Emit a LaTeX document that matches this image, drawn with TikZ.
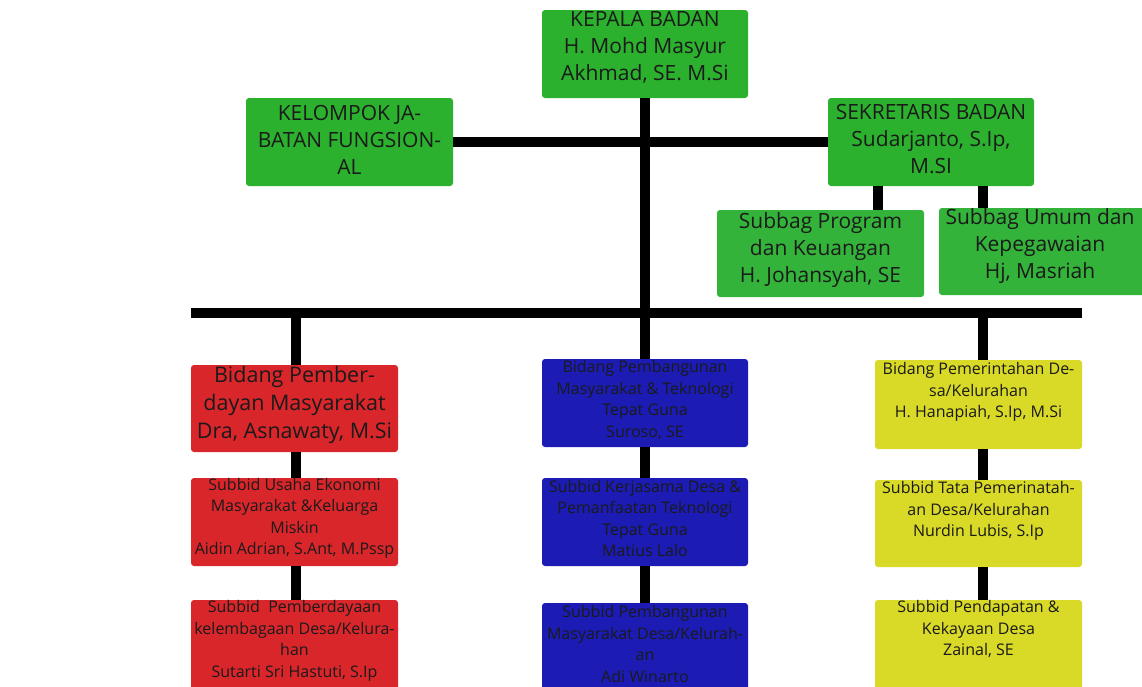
\documentclass[tikz,border=0pt]{standalone}
\usepackage{fontspec}
\setmainfont{Open Sans}
\definecolor{gr}{HTML}{2BB12E}
\definecolor{grl}{HTML}{34B33A}
\definecolor{rd}{HTML}{D9262B}
\definecolor{bl}{HTML}{1C1CB4}
\definecolor{yl}{HTML}{D9D928}
\definecolor{tx}{HTML}{1A1A1A}
\tikzset{
  box/.style={rectangle, rounded corners=3pt, inner sep=0pt, draw=none},
  gbox/.style={box, fill=gr},
  rbox/.style={box, fill=rd},
  bbox/.style={box, fill=bl},
  ybox/.style={box, fill=yl},
  bigtxt/.style={align=center, text=tx, font=\fontsize{21}{27}\selectfont, inner sep=0pt},
  smtxt/.style={align=center, text=tx, font=\fontsize{16}{21.5}\selectfont, inner sep=0pt},
  conn/.style={line width=10pt, black},
}
\begin{document}
\begin{tikzpicture}[x=1pt,y=-1pt]
\useasboundingbox (0,0) rectangle (1142,686);
\clip (0,0) rectangle (1142,686);
\fill[white] (0,0) rectangle (1142,686);
% connectors first
\coordinate (barL) at (191,313);
\coordinate (barR) at (1082,313);
\coordinate (barM) at (645,313);
\coordinate (barA) at (296,313);
\coordinate (barC) at (983,313);
\coordinate (s1) at (878,186);
\coordinate (s2) at (983,186);
\draw[conn] (barL) -- (barR);
% top boxes
\node[gbox, minimum width=206pt, minimum height=88pt] (kep) at (645,54) {};
\node[gbox, minimum width=207pt, minimum height=88pt] (kel) at (349.5,142) {};
\node[gbox, minimum width=206pt, minimum height=88pt] (sek) at (931,142) {};
\node[box, fill=grl, minimum width=207pt, minimum height=87pt] (sp) at (820.5,253.5) {};
\node[box, fill=grl, minimum width=206pt, minimum height=87pt] (su) at (1042,251.5) {};
\draw[conn] (kep.south) -- (barM);
\draw[conn] (kel.east) -- (sek.west);
\draw[conn] (s1) -- (s1 |- sp.north);
\draw[conn] (s2) -- (s2 |- su.north);
% red column
\node[rbox, minimum width=207pt, minimum height=87pt] (r1) at (294.5,408.5) {};
\node[rbox, minimum width=207pt, minimum height=88pt] (r2) at (294.5,522) {};
\node[rbox, minimum width=207pt, minimum height=100pt] (r3) at (294.5,650) {};
% blue column
\node[bbox, minimum width=206pt, minimum height=88pt] (b1) at (645,403) {};
\node[bbox, minimum width=206pt, minimum height=88pt] (b2) at (645,522) {};
\node[bbox, minimum width=206pt, minimum height=100pt] (b3) at (645,653) {};
% yellow column
\node[ybox, minimum width=207pt, minimum height=89pt] (y1) at (978.5,404.5) {};
\node[ybox, minimum width=207pt, minimum height=87pt] (y2) at (978.5,523.5) {};
\node[ybox, minimum width=207pt, minimum height=100pt] (y3) at (978.5,650) {};
% vertical connectors
\draw[conn] (barA) -- (barA |- r1.north);
\draw[conn] (barM) -- (b1.north);
\draw[conn] (barC) -- (barC |- y1.north);
\draw[conn] (r1.south -| barA) -- (r2.north -| barA);
\draw[conn] (r2.south -| barA) -- (r3.north -| barA);
\draw[conn] (b1.south) -- (b2.north);
\draw[conn] (b2.south) -- (b3.north);
\draw[conn] (y1.south -| barC) -- (y2.north -| barC);
\draw[conn] (y2.south -| barC) -- (y3.north -| barC);
% texts
\node[bigtxt] (tkep) at (645,47) {KEPALA BADAN\\H. Mohd Masyur\\Akhmad, SE. M.Si};
\node[bigtxt] (tkel) at (349.5,140) {KELOMPOK JA-\\BATAN FUNGSION-\\AL};
\node[bigtxt] (tsek) at (931,139) {SEKRETARIS BADAN\\Sudarjanto, S.Ip,\\M.SI};
\node[bigtxt] (tsp) at (820.5,250) {Subbag Program\\dan Keuangan\\H. Johansyah, SE};
\node[bigtxt] (tsu) at (1040,246) {Subbag Umum dan\\Kepegawaian\\Hj, Masriah};
\node[bigtxt, font=\fontsize{21.5}{28}\selectfont] (tr1) at (294.5,405) {Bidang Pember-\\dayan Masyarakat\\Dra, Asnawaty, M.Si};
\node[smtxt] (tr2) at (294.5,518.5) {Subbid Usaha Ekonomi\\Masyarakat \&Keluarga\\Miskin\\Aidin Adrian, S.Ant, M.Pssp};
\node[smtxt] (tr3) at (294.5,641) {Subbid\ \ Pemberdayaan\\kelembagaan Desa/Kelura-\\han\\Sutarti Sri Hastuti, S.Ip};
\node[smtxt] (tb1) at (645,400) {Bidang Pembangunan\\Masyarakat \& Teknologi\\Tepat Guna\\Suroso, SE};
\node[smtxt] (tb2) at (645,518.5) {Subbid Kerjasama Desa \&\\Pemanfaatan Teknologi\\Tepat Guna\\Matius Lalo};
\node[smtxt] (tb3) at (645,644) {Subbid Pembangunan\\Masyarakat Desa/Kelurah-\\an\\Adi Winarto};
\node[smtxt] (ty1) at (978.5,392) {Bidang Pemerintahan De-\\sa/Kelurahan\\H. Hanapiah, S.Ip, M.Si};
\node[smtxt] (ty2) at (978.5,511) {Subbid Tata Pemerinatah-\\an Desa/Kelurahan\\Nurdin Lubis, S.Ip};
\node[smtxt] (ty3) at (978.5,629) {Subbid Pendapatan \&\\Kekayaan Desa\\Zainal, SE};
\end{tikzpicture}
\end{document}
